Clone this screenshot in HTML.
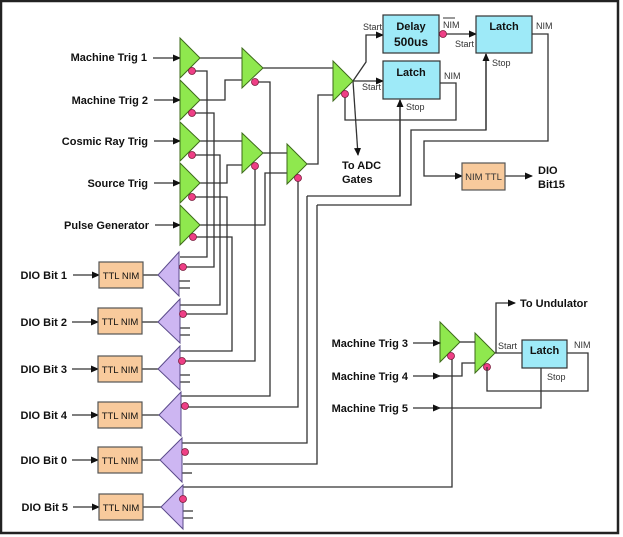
<!DOCTYPE html>
<html><head><meta charset="utf-8"><style>
html,body{margin:0;padding:0;background:#fff;width:623px;height:537px;overflow:hidden}
svg{display:block}
text{font-family:"Liberation Sans",Arial,sans-serif;fill:#111}
.b{font-weight:bold;font-size:11px}
.s{font-size:9px;fill:#333}
.w{fill:none;stroke:#333;stroke-width:1.3}
.g{fill:#8fe84e;stroke:#3d6a1a;stroke-width:1}
.p{fill:#cdb6f2;stroke:#5a4a8a;stroke-width:1}
.d{fill:#ee3f86;stroke:#7a1a3a;stroke-width:0.8}
.c{fill:#9eeaf8;stroke:#333;stroke-width:1.2}
.o{fill:#f8ca9c;stroke:#555;stroke-width:1.2}
</style></head><body>
<svg width="623" height="537" viewBox="0 0 623 537" xmlns="http://www.w3.org/2000/svg">
<defs><marker id="a" markerWidth="8" markerHeight="8" refX="7" refY="4" orient="auto" markerUnits="userSpaceOnUse"><path d="M0,0.5 L8,4 L0,7.5z" fill="#111"/></marker></defs>
<rect x="1" y="1" width="617" height="532" fill="none" stroke="#222" stroke-width="2.5"/>

<g class="b" text-anchor="end">
<text x="147" y="61">Machine Trig 1</text>
<text x="148" y="104">Machine Trig 2</text>
<text x="148" y="145">Cosmic Ray Trig</text>
<text x="148" y="187">Source Trig</text>
<text x="149" y="229">Pulse Generator</text>
</g>
<g class="w" marker-end="url(#a)">
<path d="M153,58H180"/><path d="M154,100H180"/><path d="M154,141H180"/><path d="M154,183H180"/><path d="M155,225H180"/>
</g>

<g class="w">
<path d="M200,58H242"/>
<path d="M200,100H225V80H242"/>
<path d="M200,141H242"/>
<path d="M200,183H227V165H242"/>
<path d="M263,153H287"/>
<path d="M200,225H265V173H287"/>
<path d="M263,68H333"/>
<path d="M307,164H318V95H333"/>
<path d="M192,71H207V257H180"/>
<path d="M192,113H214V267H183"/>
<path d="M192,155H220V305H180"/>
<path d="M192,197H227V314H183"/>
<path d="M193,237H232V351H180"/>
<path d="M255,82H270V396H180"/>
<path d="M255,166V361H183"/>
<path d="M298,178V407H185"/>
<path d="M307,196H400V100"/>
<path d="M307,196V443H182"/>
<path d="M317,205H411V130H486V54"/>
<path d="M317,205V464H183"/>
<path d="M183,487H452V356"/>
</g>
<g class="w" marker-end="url(#a)"><path d="M400,196V100"/><path d="M486,130V54"/></g>

<g class="w">
<path d="M353,81H383" marker-end="url(#a)"/>
<path d="M353,81L366,62V35H383" marker-end="url(#a)"/>
<path d="M353,81L358,155" marker-end="url(#a)"/>
<path d="M345,94V120H456V83H440"/>
<path d="M443,34H476" marker-end="url(#a)"/>
<path d="M532,34H548V141H424V176H462" marker-end="url(#a)"/>
<path d="M505,176H532" marker-end="url(#a)"/>
</g>
<text class="b" x="342" y="169">To ADC</text>
<text class="b" x="342" y="183">Gates</text>

<rect class="c" x="383" y="15" width="56" height="38"/>
<text class="b" x="411" y="30" text-anchor="middle">Delay</text>
<text class="b" x="411" y="46" text-anchor="middle" style="font-size:12px">500us</text>
<text class="s" x="363" y="30">Start</text>
<text class="s" x="443" y="28">NIM</text><path d="M443,18H455" stroke="#333" stroke-width="1"/>
<circle class="d" cx="443" cy="34" r="3.5"/>
<rect class="c" x="476" y="16" width="56" height="37"/>
<text class="b" x="504" y="30" text-anchor="middle">Latch</text>
<text class="s" x="455" y="47">Start</text>
<text class="s" x="536" y="29">NIM</text>
<text class="s" x="492" y="66">Stop</text>
<rect class="c" x="383" y="61" width="57" height="38"/>
<text class="b" x="411" y="76" text-anchor="middle">Latch</text>
<text class="s" x="362" y="90">Start</text>
<text class="s" x="444" y="79">NIM</text>
<text class="s" x="406" y="110">Stop</text>
<rect class="o" x="462" y="163" width="43" height="27"/>
<text class="s" x="483.5" y="180" text-anchor="middle" style="font-size:9.5px">NIM TTL</text>
<text class="b" x="538" y="174">DIO</text>
<text class="b" x="538" y="188">Bit15</text>

<g class="g">
<path d="M180,38L200,58L180,78z"/>
<path d="M180,80L200,100L180,120z"/>
<path d="M180,122L200,141L180,161z"/>
<path d="M180,163L200,183L180,203z"/>
<path d="M180,205L200,225L180,245z"/>
<path d="M242,48L263,68L242,88z"/>
<path d="M242,133L263,153L242,173z"/>
<path d="M287,144L307,164L287,184z"/>
<path d="M333,61L353,81L333,101z"/>
<path d="M440,322L460,342L440,362z"/>
<path d="M475,333L495,353L475,373z"/>
</g>
<g class="d">
<circle cx="192" cy="71" r="3.5"/><circle cx="192" cy="113" r="3.5"/><circle cx="192" cy="155" r="3.5"/><circle cx="192" cy="197" r="3.5"/><circle cx="193" cy="237" r="3.5"/>
<circle cx="255" cy="82" r="3.5"/><circle cx="255" cy="166" r="3.5"/><circle cx="298" cy="178" r="3.5"/><circle cx="345" cy="94" r="3.5"/>
<circle cx="451" cy="356" r="3.5"/><circle cx="487" cy="367" r="3.5"/>
</g>

<g class="b" text-anchor="end">
<text x="67" y="279">DIO Bit 1</text>
<text x="67" y="326">DIO Bit 2</text>
<text x="67" y="373">DIO Bit 3</text>
<text x="67" y="419">DIO Bit 4</text>
<text x="67" y="464">DIO Bit 0</text>
<text x="68" y="511">DIO Bit 5</text>
</g>
<g class="w" marker-end="url(#a)">
<path d="M73,275H99"/><path d="M72,322H98"/><path d="M72,369H98"/><path d="M72,415H98"/><path d="M72,460H98"/><path d="M73,507H99"/>
</g>
<g class="w">
<path d="M143,275H158"/><path d="M142,322H158"/><path d="M142,369H158"/><path d="M142,415H159"/><path d="M142,460H160"/><path d="M143,507H161"/>
<path d="M179,281H190M179,288H190"/><path d="M180,328H190M180,335H190"/><path d="M180,375H190M180,382H190"/>
<path d="M182,473H192"/><path d="M183,511H193M183,518H193"/>
</g>
<g class="o">
<rect x="99" y="262" width="44" height="26"/><rect x="98" y="308" width="44" height="26"/><rect x="98" y="356" width="44" height="26"/>
<rect x="98" y="402" width="44" height="26"/><rect x="98" y="447" width="44" height="26"/><rect x="99" y="494" width="44" height="26"/>
</g>
<g class="s" style="font-size:9.5px" text-anchor="middle">
<text x="121" y="279">TTL NIM</text><text x="120" y="325">TTL NIM</text><text x="120" y="373">TTL NIM</text>
<text x="120" y="419">TTL NIM</text><text x="120" y="464">TTL NIM</text><text x="121" y="511">TTL NIM</text>
</g>
<g class="p">
<path d="M179,252L158,275L179,296z"/>
<path d="M180,299L158,322L180,343z"/>
<path d="M180,346L158,369L180,390z"/>
<path d="M181,392L159,415L181,436z"/>
<path d="M182,438L160,460L182,482z"/>
<path d="M183,485L161,507L183,529z"/>
</g>
<g class="d">
<circle cx="183" cy="267" r="3.5"/><circle cx="183" cy="314" r="3.5"/><circle cx="182" cy="361" r="3.5"/>
<circle cx="185" cy="406" r="3.5"/><circle cx="185" cy="452" r="3.5"/><circle cx="183" cy="499" r="3.5"/>
</g>

<g class="b" text-anchor="end">
<text x="408" y="347">Machine Trig 3</text>
<text x="408" y="380">Machine Trig 4</text>
<text x="408" y="412">Machine Trig 5</text>
</g>
<g class="w">
<path d="M413,343H440" marker-end="url(#a)"/>
<path d="M413,376H440" marker-end="url(#a)"/>
<path d="M437,376H462V363H475"/>
<path d="M413,408H440" marker-end="url(#a)"/>
<path d="M437,408H541V368"/>
<path d="M460,342H475"/>
<path d="M495,353H522"/>
<path d="M496,353V303H515" marker-end="url(#a)"/>
<path d="M567,353H588V391H487V367"/>
</g>
<text class="b" x="520" y="307">To Undulator</text>
<rect class="c" x="522" y="340" width="45" height="28"/>
<text class="b" x="544.5" y="354" text-anchor="middle">Latch</text>
<text class="s" x="498" y="349">Start</text>
<text class="s" x="574" y="348">NIM</text>
<text class="s" x="547" y="380">Stop</text>
</svg>
</body></html>
